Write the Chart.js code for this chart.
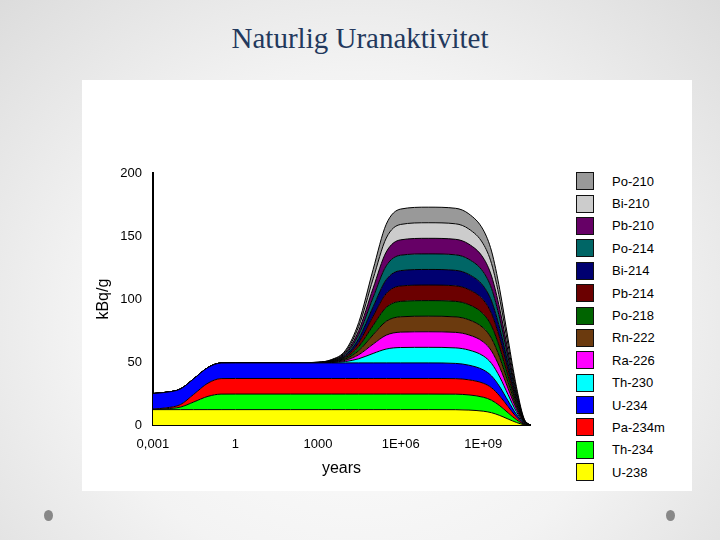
<!DOCTYPE html>
<html><head><meta charset="utf-8">
<script src="https://cdn.jsdelivr.net/npm/chart.js@4"></script>
<style>
body{margin:0;width:720px;height:540px;overflow:hidden;background:radial-gradient(ellipse at 50% 60%,#ffffff 0%,#f3f3f3 55%,#dcdcdc 100%);font-family:"Liberation Sans",Arial,sans-serif;position:relative}
#title{position:absolute;left:0;width:720px;top:22px;text-align:center;font-family:"Liberation Serif","Times New Roman",serif;font-size:29px;color:#23395d}
#panel{position:absolute;left:82px;top:80px;width:610px;height:411px;background:#fff}
#wrap{position:absolute;left:0;top:0;width:470px;height:411px}
#legend{position:absolute;left:494px;top:90px;font-size:13px;color:#000}
.li{height:22.4px;display:flex;align-items:center}
.bx{width:16px;height:16px;border:1.5px solid #111;margin-right:18px}
.dot{position:absolute;width:9px;height:11px;border-radius:50%;background:#888}
</style></head><body>
<div id="title">Naturlig Uranaktivitet</div>
<div id="panel"><div id="wrap"><canvas id="c"></canvas></div><div id="legend"></div></div>
<div class="dot" style="left:44px;top:510px"></div>
<div class="dot" style="left:666px;top:510px"></div>
<script>
const years = [0.001,0.003,0.01,0.03,0.1,0.3,1,10,100,1000,3000,1e4,3e4,1e5,3e5,1e6,1e7,1e8,3e8,1e9,2e9,4e9,8e9,1.6e10,3e10,5e10];
const xTicks = [0.001,1,1000,1e6,1e9];
const xTickLabels = ["0,001","1","1000","1E+06","1E+09"];
const nuclides = ["U-238","Th-234","Pa-234m","U-234","Th-230","Ra-226","Rn-222","Po-218","Pb-214","Bi-214","Po-214","Pb-210","Bi-210","Po-210"];
const colors = ["#ffff00","#00ff00","#ff0000","#0000ff","#00ffff","#ff00ff","#6b3a0e","#006400","#6b0000","#000070","#006666","#660066","#cccccc","#999999"];
const U238   = [12.35,12.35,12.35,12.35,12.35,12.35,12.35,12.35,12.35,12.35,12.35,12.35,12.35,12.35,12.35,12.35,12.35,12.3,12.0,11.1,9.9,7.7,4.9,2.2,0.4,0];
const Th234  = [0.2,0.7,2,6,10.5,12.3,12.35,12.35,12.35,12.35,12.35,12.35,12.35,12.35,12.35,12.35,12.35,12.3,12.0,11.1,9.9,7.7,4.9,2.2,0.4,0];
const Pa234m = [0.2,0.7,2,6,10.5,12.3,12.35,12.35,12.35,12.35,12.35,12.35,12.35,12.35,12.35,12.35,12.35,12.3,12.0,11.1,9.9,7.7,4.9,2.2,0.4,0];
const U234   = [12.35,12.35,12.35,12.35,12.35,12.35,12.35,12.35,12.35,12.35,12.35,12.35,12.35,12.35,12.35,12.35,12.35,12.1,11.6,10.6,9.4,7.3,4.6,2.0,0.35,0];
const Th230  = [0,0,0,0,0,0,0,0,0,0.1,0.3,1.1,3.3,7.5,11,12.2,12.35,12.3,12.0,11.1,9.9,7.7,4.9,2.2,0.4,0];
const Ra226  = [0,0,0,0,0,0,0,0,0,0.05,0.25,1.0,3.2,7.4,11,12.2,12.35,12.3,12.0,11.1,9.9,7.7,4.9,2.2,0.4,0];
const Rn222  = Ra226.slice(), Po218 = Ra226.slice(), Pb214 = Ra226.slice(), Bi214 = Ra226.slice(), Po214 = Ra226.slice();
const Pb210  = [0,0,0,0,0,0,0,0,0,0.05,0.25,1.0,3.2,7.4,11,12.2,12.35,12.3,12.0,11.1,9.9,7.7,4.9,2.2,0.4,0];
const Bi210 = Pb210.slice(), Po210 = Pb210.slice();
const series = [U238,Th234,Pa234m,U234,Th230,Ra226,Rn222,Po218,Pb214,Bi214,Po214,Pb210,Bi210,Po210];

const datasets = series.map((s,i)=>({label:nuclides[i],data:s.map((v,j)=>({x:years[j],y:v})),backgroundColor:colors[i],borderColor:'#000',borderWidth:1,fill:i===0?'origin':'-1',pointRadius:0,cubicInterpolationMode:'monotone'}));

const leg=document.getElementById('legend');
for(let i=nuclides.length-1;i>=0;i--){leg.innerHTML+=`<div class="li"><div class="bx" style="background:${colors[i]}"></div>${nuclides[i]}</div>`;}

new Chart(document.getElementById('c'),{type:'line',data:{datasets},
options:{responsive:true,maintainAspectRatio:false,animation:false,
layout:{padding:{top:93,right:22,left:8,bottom:9}},
plugins:{legend:{display:false},tooltip:{enabled:false}},
scales:{
x:{type:'logarithmic',min:0.001,max:5e10,
 afterBuildTicks:a=>{a.ticks=xTicks.map(v=>({value:v}));},
 ticks:{callback:(v)=>xTickLabels[xTicks.indexOf(v)],color:'#000',font:{size:13},maxRotation:0,autoSkip:false},
 grid:{display:false,drawTicks:true},border:{color:'#000',width:2},
 title:{display:true,text:'years',color:'#000',font:{size:16},padding:{top:4}}},
y:{stacked:true,min:0,max:200,
 ticks:{stepSize:50,color:'#000',font:{size:13}},
 grid:{display:false,drawTicks:true,tickLength:8,tickColor:'#000'},border:{color:'#000',width:2},
 title:{display:true,text:'kBq/g',color:'#000',font:{size:16}}}
}}});
</script></body></html>
